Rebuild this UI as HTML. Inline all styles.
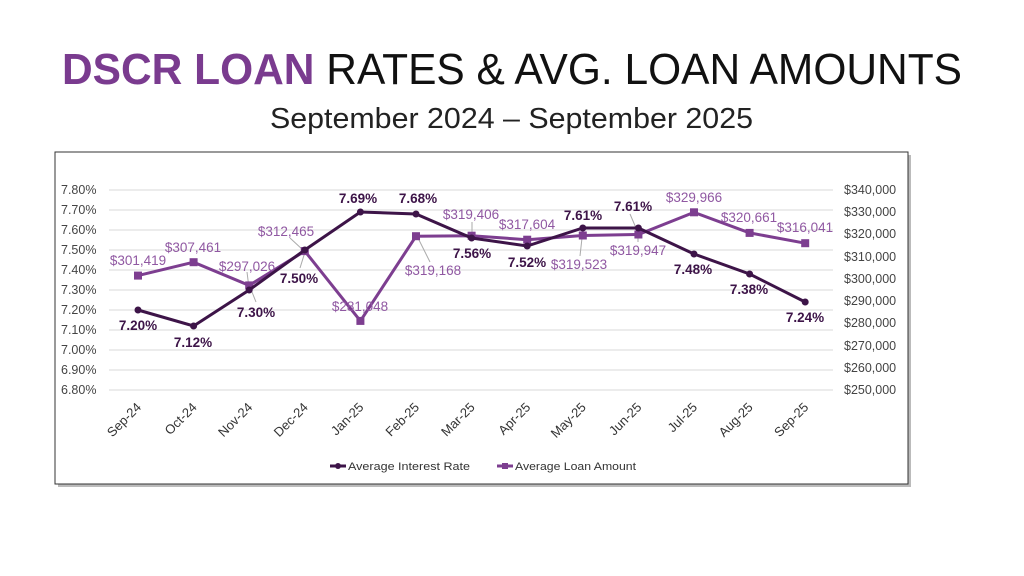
<!DOCTYPE html>
<html><head><meta charset="utf-8"><style>
html,body{margin:0;padding:0;background:#fff;width:1024px;height:576px;overflow:hidden}
</style></head><body>
<svg width="1024" height="576" viewBox="0 0 1024 576" xmlns="http://www.w3.org/2000/svg" font-family="Liberation Sans, sans-serif">
<rect width="1024" height="576" fill="#fff"/>
<text x="62" y="84" font-size="44" textLength="900" lengthAdjust="spacingAndGlyphs"><tspan fill="#7a3b8f" font-weight="bold">DSCR LOAN</tspan><tspan fill="#111"> RATES &amp; AVG. LOAN AMOUNTS</tspan></text>
<text x="270" y="128" font-size="29" fill="#222" textLength="483" lengthAdjust="spacingAndGlyphs">September 2024 – September 2025</text>
<rect x="58" y="155" width="853" height="332" fill="#bbb"/>
<rect x="55" y="152" width="853" height="332" fill="#fff" stroke="#333" stroke-width="1"/>
<g stroke="#ececec" stroke-width="2">
<line x1="109" x2="833" y1="190" y2="190"/><line x1="109" x2="833" y1="210" y2="210"/><line x1="109" x2="833" y1="230" y2="230"/><line x1="109" x2="833" y1="250" y2="250"/><line x1="109" x2="833" y1="270" y2="270"/><line x1="109" x2="833" y1="290" y2="290"/><line x1="109" x2="833" y1="310" y2="310"/><line x1="109" x2="833" y1="330" y2="330"/><line x1="109" x2="833" y1="350" y2="350"/><line x1="109" x2="833" y1="370" y2="370"/><line x1="109" x2="833" y1="390" y2="390"/>
</g>
<g font-size="12.5" fill="#444" text-anchor="start">
<text x="61" y="194">7.80%</text><text x="61" y="214">7.70%</text><text x="61" y="234">7.60%</text><text x="61" y="254">7.50%</text><text x="61" y="274">7.40%</text><text x="61" y="294">7.30%</text><text x="61" y="314">7.20%</text><text x="61" y="334">7.10%</text><text x="61" y="354">7.00%</text><text x="61" y="374">6.90%</text><text x="61" y="394">6.80%</text>
</g>
<g font-size="12.5" fill="#444" text-anchor="start">
<text x="844" y="194">$340,000</text><text x="844" y="216">$330,000</text><text x="844" y="238">$320,000</text><text x="844" y="261">$310,000</text><text x="844" y="283">$300,000</text><text x="844" y="305">$290,000</text><text x="844" y="327">$280,000</text><text x="844" y="350">$270,000</text><text x="844" y="372">$260,000</text><text x="844" y="394">$250,000</text>
</g>
<g stroke="#aaa" stroke-width="1">
<line x1="249" y1="288" x2="247" y2="272"/><line x1="252" y1="292" x2="256" y2="302"/>
<line x1="303" y1="250" x2="290" y2="238"/><line x1="305" y1="252" x2="300" y2="268"/>
<line x1="418" y1="238" x2="430" y2="262"/><line x1="472" y1="236" x2="472" y2="222"/>
<line x1="582" y1="238" x2="580" y2="256"/><line x1="636" y1="228" x2="630" y2="214"/><line x1="638" y1="236" x2="638" y2="242"/>
</g>
<polyline fill="none" stroke="#7d3e90" stroke-width="3" points="138,275.6 193.6,262.2 249.2,285.4 304.8,251.1 360.4,320.9 416,236.2 471.6,235.7 527.2,239.7 582.8,235.5 638.4,234.5 694,212.3 749.6,232.9 805.2,243.2"/>
<g fill="#7d3e90">
<rect x="134" y="271.6" width="8" height="8"/><rect x="189.6" y="258.2" width="8" height="8"/><rect x="245.2" y="281.4" width="8" height="8"/><rect x="300.8" y="247.1" width="8" height="8"/><rect x="356.4" y="316.9" width="8" height="8"/><rect x="412" y="232.2" width="8" height="8"/><rect x="467.6" y="231.7" width="8" height="8"/><rect x="523.2" y="235.7" width="8" height="8"/><rect x="578.8" y="231.5" width="8" height="8"/><rect x="634.4" y="230.5" width="8" height="8"/><rect x="690" y="208.3" width="8" height="8"/><rect x="745.6" y="228.9" width="8" height="8"/><rect x="801.2" y="239.2" width="8" height="8"/>
</g>
<polyline fill="none" stroke="#3d1448" stroke-width="3" points="138,310 193.6,326 249.2,290 304.8,250 360.4,212 416,214 471.6,238 527.2,246 582.8,228 638.4,228 694,254 749.6,274 805.2,302"/>
<g fill="#3d1448">
<circle cx="138" cy="310" r="3.5"/><circle cx="193.6" cy="326" r="3.5"/><circle cx="249.2" cy="290" r="3.5"/><circle cx="304.8" cy="250" r="3.5"/><circle cx="360.4" cy="212" r="3.5"/><circle cx="416" cy="214" r="3.5"/><circle cx="471.6" cy="238" r="3.5"/><circle cx="527.2" cy="246" r="3.5"/><circle cx="582.8" cy="228" r="3.5"/><circle cx="638.4" cy="228" r="3.5"/><circle cx="694" cy="254" r="3.5"/><circle cx="749.6" cy="274" r="3.5"/><circle cx="805.2" cy="302" r="3.5"/>
</g>
<g font-size="13.5" fill="#9058a2" text-anchor="middle">
<text x="138" y="265">$301,419</text><text x="193" y="252">$307,461</text><text x="247" y="271">$297,026</text><text x="286" y="236">$312,465</text><text x="360" y="311">$281,048</text><text x="433" y="275">$319,168</text><text x="471" y="219">$319,406</text><text x="527" y="229">$317,604</text><text x="579" y="269">$319,523</text><text x="638" y="255">$319,947</text><text x="694" y="202">$329,966</text><text x="749" y="222">$320,661</text><text x="805" y="232">$316,041</text>
</g>
<g font-size="13.5" fill="#3d1448" font-weight="bold" text-anchor="middle">
<text x="138" y="330">7.20%</text><text x="193" y="347">7.12%</text><text x="256" y="317">7.30%</text><text x="299" y="283">7.50%</text><text x="358" y="203">7.69%</text><text x="418" y="203">7.68%</text><text x="472" y="258">7.56%</text><text x="527" y="267">7.52%</text><text x="583" y="220">7.61%</text><text x="633" y="211">7.61%</text><text x="693" y="274">7.48%</text><text x="749" y="294">7.38%</text><text x="805" y="322">7.24%</text>
</g>
<g font-size="13" fill="#333" text-anchor="end">
<text transform="translate(142,408) rotate(-45)">Sep-24</text><text transform="translate(197.6,408) rotate(-45)">Oct-24</text><text transform="translate(253.2,408) rotate(-45)">Nov-24</text><text transform="translate(308.8,408) rotate(-45)">Dec-24</text><text transform="translate(364.4,408) rotate(-45)">Jan-25</text><text transform="translate(420,408) rotate(-45)">Feb-25</text><text transform="translate(475.6,408) rotate(-45)">Mar-25</text><text transform="translate(531.2,408) rotate(-45)">Apr-25</text><text transform="translate(586.8,408) rotate(-45)">May-25</text><text transform="translate(642.4,408) rotate(-45)">Jun-25</text><text transform="translate(698,408) rotate(-45)">Jul-25</text><text transform="translate(753.6,408) rotate(-45)">Aug-25</text><text transform="translate(809.2,408) rotate(-45)">Sep-25</text>
</g>
<line x1="330" y1="466" x2="346" y2="466" stroke="#3d1448" stroke-width="3"/><circle cx="338" cy="466" r="3" fill="#3d1448"/>
<text x="348" y="470" font-size="11" fill="#333" textLength="122" lengthAdjust="spacingAndGlyphs">Average Interest Rate</text>
<line x1="497" y1="466" x2="513" y2="466" stroke="#7d3e90" stroke-width="3"/><rect x="502" y="463" width="6" height="6" fill="#7d3e90"/>
<text x="515" y="470" font-size="11" fill="#333" textLength="121" lengthAdjust="spacingAndGlyphs">Average Loan Amount</text>
</svg>
</body></html>
